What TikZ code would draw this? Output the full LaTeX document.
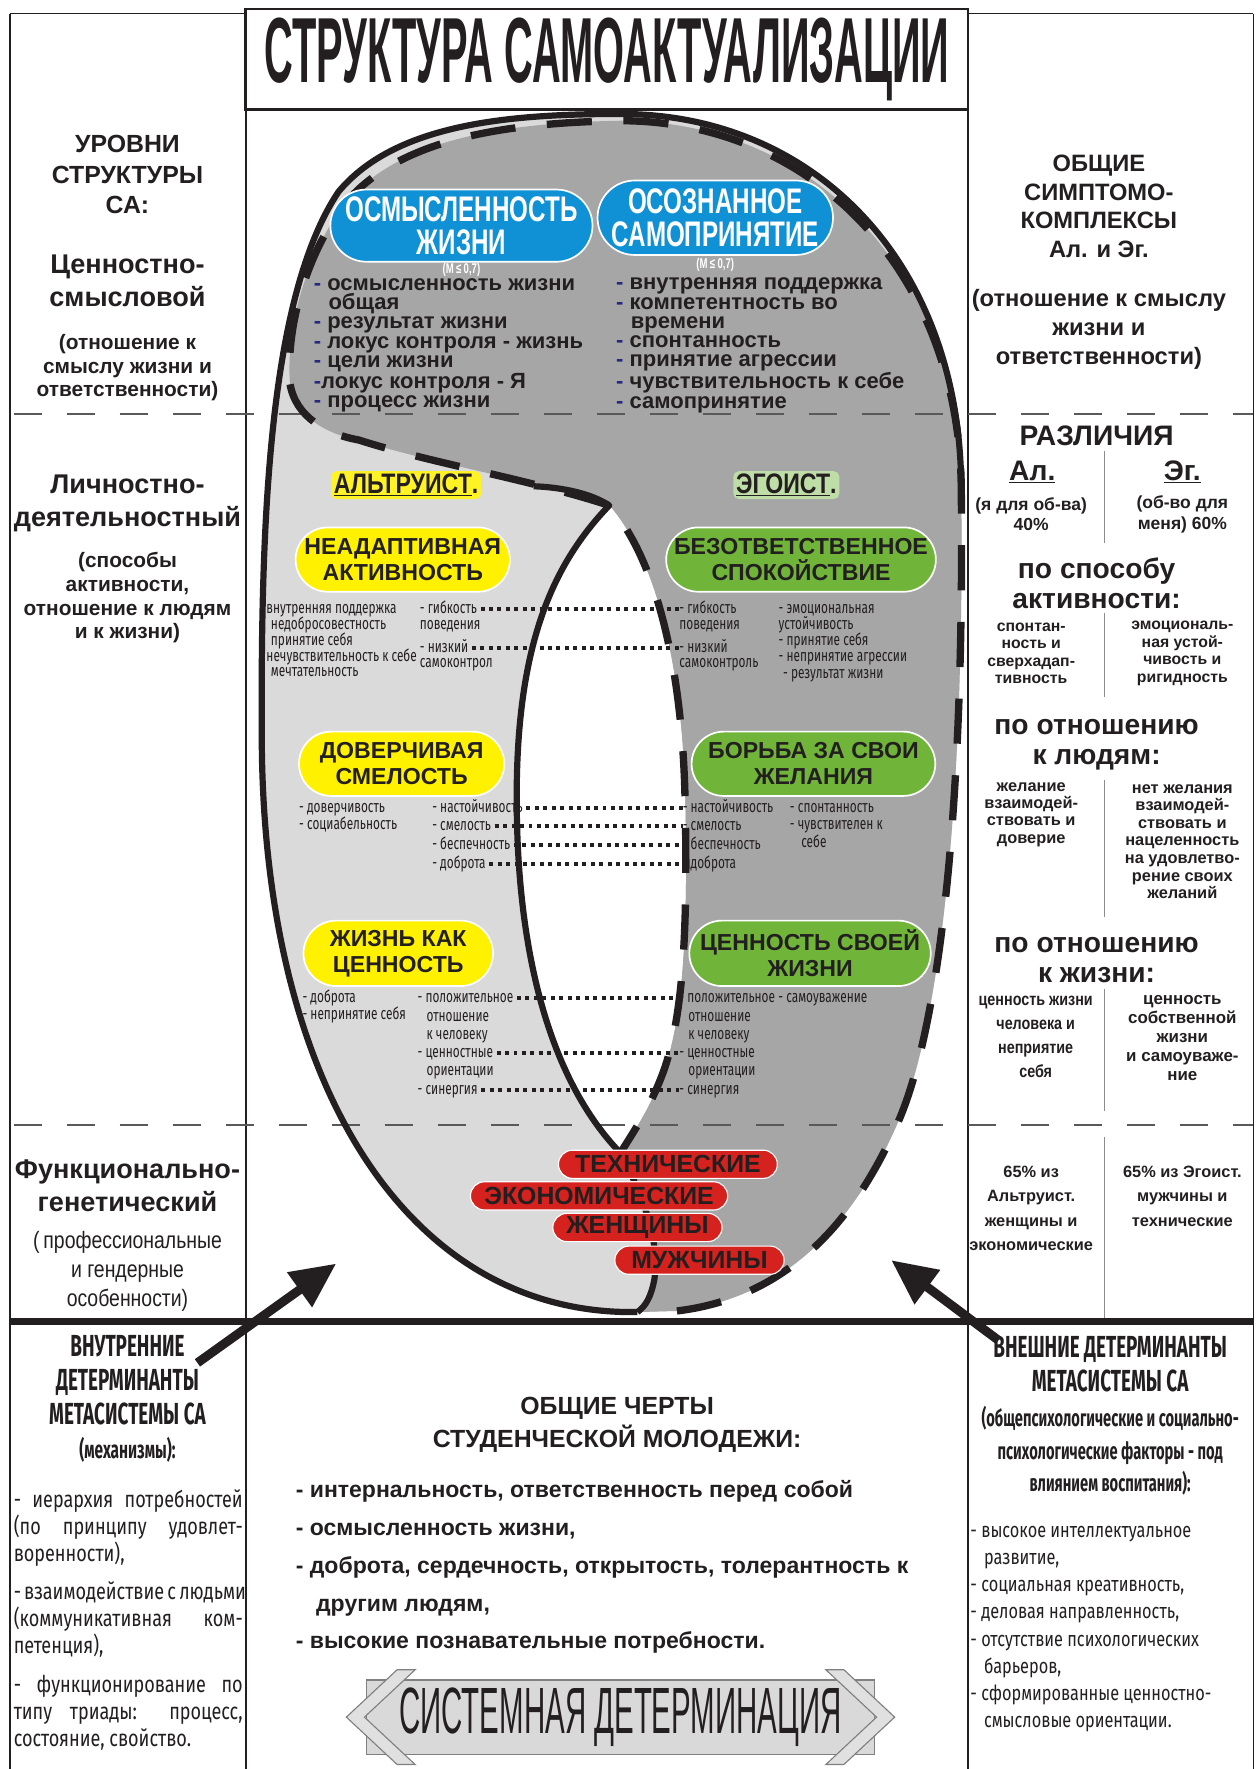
\documentclass[tikz,border=0pt]{standalone}
\usepackage{fontspec}
\setmainfont{Liberation Sans}
\newfontfamily\narrowf{Liberation Sans}[FakeStretch=0.82]
\newfontfamily\condf{Liberation Sans}[FakeStretch=0.68]
\newfontfamily\titlef{Liberation Sans}[FakeStretch=0.43]
\newfontfamily\bannerf{Liberation Sans}[FakeStretch=0.45]
\newfontfamily\futf{Fira Sans}[FakeStretch=0.78]
\newfontfamily\finef{Fira Sans}[FakeStretch=0.7]
\newfontfamily\futhf{Fira Sans}[FakeStretch=0.62]
\usetikzlibrary{arrows.meta,shapes.misc}

\definecolor{ink}{RGB}{35,31,32}
\definecolor{lgray}{RGB}{218,218,218}
\definecolor{dgray}{RGB}{166,166,166}
\definecolor{pillblue}{RGB}{16,145,214}
\definecolor{pillyel}{RGB}{255,241,0}
\definecolor{pillgrn}{RGB}{112,180,58}
\definecolor{pillred}{RGB}{214,34,30}
\definecolor{navy}{RGB}{40,40,130}
\newcommand{\fs}[2]{\fontsize{#1}{#2}\selectfont}
\newcommand{\dsh}{{\color{navy}-}}

\begin{document}
\begin{tikzpicture}[x=1pt,y=-1pt,
    framel/.style={line width=1.3pt,draw=ink},
    levelsep/.style={line width=1.4pt,draw=black!65,dash pattern=on 25pt off 22pt},
    subsep/.style={line width=1.2pt,draw=black!45},
    ctext/.style={align=center,inner sep=0pt,text=ink},
    lvlhead/.style={ctext,font=\bfseries\fs{22}{27}},
    lvlname/.style={ctext,font=\bfseries\fs{24}{29}},
    lvlnote/.style={ctext,font=\bfseries\fs{18.5}{21}},
    lvlnotetwo/.style={ctext,font=\narrowf\fs{21}{26}},
    rhead/.style={ctext,font=\bfseries\fs{21}{25.5}},
    diffhead/.style={ctext,font=\bfseries\fs{25}{26}},
    diffsub/.style={ctext,font=\bfseries\fs{14}{15.5}},
    detbig/.style={ctext,font=\futhf\bfseries\fs{27}{30}},
    detsmall/.style={ctext,font=\futhf\bfseries\fs{21}{29}},
    pill/.style={rounded rectangle,draw=white,line width=1.5pt,align=center,inner sep=0pt,text=ink},
    bluepill/.style={pill,fill=pillblue,text=white,font=\condf\bfseries\fs{31.5}{29.5}},
    yelpill/.style={pill,fill=pillyel,font=\bfseries\fs{20.5}{23}},
    grnpill/.style={pill,fill=pillgrn,font=\bfseries\fs{20.5}{23}},
    redpill/.style={pill,fill=pillred,line width=1pt,font=\bfseries\fs{22}{22},minimum height=25pt},
    typelbl/.style={ctext,inner sep=2.5pt,rounded corners=5pt,font=\narrowf\bfseries\fs{25}{25}},
    listblock/.style={anchor=west,align=left,inner sep=0pt,text=ink,font=\bfseries\fs{19.5}{17.1}},
    finetxt/.style={anchor=base west,inner sep=0pt,text=ink,font=\finef\fs{15}{14}},
    paratxt/.style={anchor=base west,inner sep=0pt,text=ink,font=\futf\fs{20.5}{24}},
    traitxt/.style={anchor=base west,inner sep=0pt,text=ink,font=\bfseries\fs{20.4}{22}},
    dotline/.style={line width=3.5pt,draw=ink,dash pattern=on 3.5pt off 4pt,shorten <=3pt},
    rimsolid/.style={line width=5.5pt,draw=ink,line join=round},
    rimdash/.style={line width=6.5pt,draw=ink,dash pattern=on 40pt off 28pt},
    bigarrow/.style={line width=8pt,draw=ink,-{Triangle[length=40pt,width=36pt]}}
  ]
  \useasboundingbox (0,0) rectangle (1116,1568);
  \fill[white] (0,0) rectangle (1116,1568);

  % the loop: light body, dark part, hole
  \def\outerpath{(560,1163) .. controls (360,1163) and (232,960) .. (232,650)
    .. controls (231,450) and (240,260) .. (300,170)
    .. controls (350,110) and (450,101) .. (550,101)
    .. controls (720,101) and (850,230) .. (852,430)
    .. controls (855,700) and (835,900) .. (798,990)
    .. controls (760,1080) and (700,1150) .. (600,1162) -- cycle}
  \def\holeright{(540,448) .. controls (585,500) and (604,600) .. (607,700)
    .. controls (610,820) and (606,900) .. (588,950)
    .. controls (575,985) and (560,1005) .. (550,1022)}
  \def\darkrim{(600,1162) .. controls (700,1150) and (760,1080) .. (798,990)
    .. controls (835,900) and (855,700) .. (852,430)
    .. controls (849,240) and (720,107) .. (550,107)
    .. controls (440,109) and (345,125) .. (300,188)
    .. controls (265,240) and (254,300) .. (257,340)
    .. controls (262,370) and (290,385) .. (318,390)
    .. controls (380,410) and (470,425) .. \holeright}
  \fill[lgray] \outerpath;
  \fill[dgray] \darkrim .. controls (570,1060) and (585,1100) .. (580,1134)
    .. controls (577,1150) and (572,1158) .. (565,1163) -- cycle;
  \fill[white] \holeright
    .. controls (490,960) and (457,850) .. (458,700)
    .. controls (459,570) and (490,500) .. (540,448) -- cycle;

  % frame and level lines
  \draw[framel] (9,12) -- (218,12) (858,12) -- (1111,12);
  \draw[framel] (9,12) -- (9,1568) (218,12) -- (218,1568)
    (858,12) -- (858,1568) (1111,12) -- (1111,1568);
  \draw[levelsep] (12,367) -- (1111,367);
  \draw[levelsep] (12,997) -- (1111,997);
  \draw[line width=6pt,ink] (9,1171) -- (1111,1171);
  \foreach \a/\b in {400/481, 543/618, 691/813, 877/985, 1008/1168}
    \draw[subsep] (979,\a) -- (979,\b);
  \node[draw=ink,line width=2.6pt,fill=white,minimum width=640pt,minimum height=89pt,
    inner sep=0pt,font=\titlef\bfseries\fs{82}{82},text=ink] (title) at (538,52.5)
    {СТРУКТУРА САМОАКТУАЛИЗАЦИИ};

  % left column: levels
  \node[lvlhead] (lvlTop) at (113,155) {УРОВНИ\\СТРУКТУРЫ\\СА:};
  \node[lvlname] (lvlOne) at (113,249) {Ценностно-\\смысловой};
  \node[lvlnote] (lvlOneNote) at (113,326) {(отношение к\\смыслу жизни и\\ответственности)};
  \node[lvlname] (lvlTwo) at (113,446) {Личностно-\\деятельностный};
  \node[lvlnote] (lvlTwoNote) at (113,530) {(способы\\активности,\\отношение к людям\\и к жизни)};
  \node[lvlname] (lvlThree) at (113,1051) {Функционально-\\генетический};
  \node[lvlnotetwo] (lvlThreeNote) at (113,1127) {(\,профессиональные\\и гендерные\\особенности)};

  % left column: inner determinants
  \node[detbig] (innerHead) at (113,1240) {ВНУТРЕННИЕ\\ДЕТЕРМИНАНТЫ\\МЕТАСИСТЕМЫ СА\\{\fs{22}{22}(механизмы):}};
  \foreach \txt/\yy/\md [count=\i] in {{- иерархия потребностей}/1336/s,
      {(по принципу удовлет-}/1360/s, {воренности),}/1384/l,
      {- взаимодействие с людьми}/1418/s, {(коммуникативная ком-}/1442/s,
      {петенция),}/1466/l, {- функционирование по}/1500/s,
      {типу триады: процесс,}/1524/s, {состояние, свойство.}/1548/l}
    \node[paratxt] (inner\i) at (12,\yy) {\makebox[203pt][\md]{\txt}};

  % right column: common symptom complexes
  \node[rhead] (symHead) at (974,183) {ОБЩИЕ\\СИМПТОМО-\\КОМПЛЕКСЫ\\Ал. и Эг.};
  \node[rhead] (symNote) at (974,292) {(отношение к смыслу\\жизни и\\ответственности)};
  \node[diffhead] (diffHead) at (972,386) {РАЗЛИЧИЯ};
  \node[diffhead] (altShort) at (915,418) {\underline{Ал.}};
  \node[diffhead] (egoShort) at (1048,418) {\underline{Эг.}};
  \node[ctext,font=\bfseries\fs{15.5}{18}] (altShare) at (914,456) {(я для об-ва)\\40\%};
  \node[ctext,font=\bfseries\fs{15.5}{18}] (egoShare) at (1048,456) {(об-во для\\меня) 60\%};
  \node[diffhead] (byAct) at (972,517) {по способу\\активности:};
  \node[diffsub] (altAct) at (914,579) {спонтан-\\ность и\\сверхадап-\\тивность};
  \node[diffsub] (egoAct) at (1048,579) {эмоциональ-\\ная устой-\\чивость и\\ригидность};
  \node[diffhead] (byPeople) at (972,660) {по отношению\\к людям:};
  \node[ctext,font=\bfseries\fs{14.5}{15.3}] (altPeople) at (914,722) {желание\\взаимодей-\\ствовать и\\доверие};
  \node[ctext,font=\bfseries\fs{14.5}{15.6}] (egoPeople) at (1048,746) {нет желания\\взаимодей-\\ствовать и\\нацеленность\\на удовлетво-\\рение своих\\желаний};
  \node[diffhead] (byLife) at (972,851) {по отношению\\к жизни:};
  \node[ctext,font=\narrowf\bfseries\fs{15.5}{21.5}] (altLife) at (918,919) {ценность жизни\\человека и\\неприятие\\себя};
  \node[ctext,font=\bfseries\fs{15}{17}] (egoLife) at (1048,920) {ценность\\собственной\\жизни\\и самоуваже-\\ние};
  \node[ctext,font=\bfseries\fs{14.5}{21.7}] (altShareB) at (914,1071) {65\% из\\Альтруист.\\женщины и\\экономические};
  \node[ctext,font=\bfseries\fs{14.5}{21.7}] (egoShareB) at (1048,1060) {65\% из Эгоист.\\мужчины и\\технические};

  % right column: outer determinants
  \node[detbig] (outerHead) at (984,1209) {ВНЕШНИЕ ДЕТЕРМИНАНТЫ\\МЕТАСИСТЕМЫ СА};
  \node[detsmall] (outerNote) at (984,1286) {(общепсихологические и социально-\\психологические факторы - под\\влиянием воспитания):};
  \foreach \txt/\xx [count=\i] in {{- высокое интеллектуальное}/860, {развитие,}/872,
      {- социальная креативность,}/860, {- деловая направленность,}/860,
      {- отсутствие психологических}/860, {барьеров,}/872,
      {- сформированные ценностно-}/860, {смысловые ориентации.}/872}
    \node[paratxt,font=\futf\fs{18.5}{22}] (outer\i) at (\xx,1363+24*\i-24) {\txt};

  % middle bottom: common traits
  \node[ctext,font=\bfseries\fs{22}{29}] (traitHead) at (547,1263) {ОБЩИЕ ЧЕРТЫ\\СТУДЕНЧЕСКОЙ МОЛОДЕЖИ:};
  \foreach \txt/\xx/\yy [count=\i] in {{- интернальность, ответственность перед собой}/262/1327,
      {- осмысленность жизни,}/262/1361, {- доброта, сердечность, открытость, толерантность к}/262/1395,
      {другим людям,}/280/1428, {- высокие познавательные потребности.}/262/1461}
    \node[traitxt] (trait\i) at (\xx,\yy) {\txt};

  % banner
  \node[draw=black!50,fill=black!15,line width=1.2pt,minimum width=450pt,minimum height=66pt,
    inner sep=0pt,font=\bannerf\fs{58}{58},text=ink] (sysdet) at (550,1522) {СИСТЕМНАЯ ДЕТЕРМИНАЦИЯ};
  \filldraw[fill=black!12,draw=black!50,line width=1pt]
    (352,1480) -- (307,1522) -- (352,1564) -- (368,1564) -- (323,1522) -- (368,1480) -- cycle;
  \filldraw[fill=black!12,draw=black!50,line width=1pt]
    (748,1480) -- (793,1522) -- (748,1564) -- (732,1564) -- (777,1522) -- (732,1480) -- cycle;

  % arrows into the loop
  \coordinate (inTail) at (175,1208);
  \coordinate (inTip) at (298,1120);
  \coordinate (outTail) at (885,1188);
  \coordinate (outTip) at (790,1117);
  \draw[bigarrow] (inTail) -- (inTip);
  \draw[bigarrow] (outTail) -- (outTip);

  % sense level lists
  \node[listblock] (senseL) at (278,306) {\dsh\ осмысленность жизни\\\hspace*{13pt}общая\\
    \dsh\ результат жизни\\\dsh\ локус контроля - жизнь\\\dsh\ цели жизни\\
    \dsh локус контроля - Я\\\dsh\ процесс жизни};
  \node[listblock] (senseR) at (546,306) {\dsh\ внутренняя поддержка\\\dsh\ компетентность во\\
    \hspace*{13pt}времени\\\dsh\ спонтанность\\\dsh\ принятие агрессии\\
    \dsh\ чувствительность к себе\\\dsh\ самопринятие};

  % block 1
  \foreach \txt/\xx/\yy [count=\i] in {{внутренняя поддержка}/236/544, {недобросовестность}/240/558,
      {принятие себя}/240/572, {нечувствительность к себе}/236/586, {мечтательность}/240/600}
    \node[finetxt] (b1l\i) at (\xx,\yy) {\txt};
  \foreach \txt/\yy [count=\i] in {- гибкость/544, поведения/558, - низкий/578, самоконтрол/592}
    \node[finetxt] (b1m\i) at (372,\yy) {\txt};
  \foreach \txt/\yy [count=\i] in {- гибкость/544, поведения/558, - низкий/578, самоконтроль/592}
    \node[finetxt] (b1r\i) at (602,\yy) {\txt};
  \foreach \txt/\xx/\yy [count=\i] in {- эмоциональная/690/544, устойчивость/690/558,
      - принятие себя/690/572, - непринятие агрессии/690/586, - результат жизни/694/601}
    \node[finetxt] (b1f\i) at (\xx,\yy) {\txt};
  \foreach \i in {1,3}
    \draw[dotline] ([yshift=4pt]b1m\i.base east) -- ([yshift=4pt]b1r\i.base west);

  % block 2
  \foreach \txt/\yy [count=\i] in {- доверчивость/720, - социабельность/735}
    \node[finetxt] (b2l\i) at (265,\yy) {\txt};
  \foreach \txt/\yy [count=\i] in {- настойчивость/720, - смелость/736, - беспечность/753, - доброта/770}
    \node[finetxt] (b2m\i) at (383,\yy) {\txt};
  \foreach \txt/\yy [count=\i] in {- настойчивость/720, - смелость/736, - беспечность/753, - доброта/770}
    \node[finetxt] (b2r\i) at (605,\yy) {\txt};
  \foreach \txt/\xx/\yy [count=\i] in {- спонтанность/700/720, - чувствителен к/700/735, себе/710/751}
    \node[finetxt] (b2f\i) at (\xx,\yy) {\txt};
  \foreach \i in {1,...,4}
    \draw[dotline] ([yshift=4pt]b2m\i.base east) -- ([yshift=4pt]b2r\i.base west);

  % block 3
  \foreach \txt/\yy [count=\i] in {- доброта/889, - непринятие себя/904}
    \node[finetxt] (b3l\i) at (268,\yy) {\txt};
  \foreach \txt/\xx/\yy [count=\i] in {- положительное/370/889, отношение/378/905, к человеку/378/921,
      - ценностные/370/937, ориентации/378/953, - синергия/370/970}
    \node[finetxt] (b3m\i) at (\xx,\yy) {\txt};
  \foreach \txt/\xx/\yy [count=\i] in {- положительное/602/889, отношение/610/905, к человеку/610/921,
      - ценностные/602/937, ориентации/610/953, - синергия/602/970}
    \node[finetxt] (b3r\i) at (\xx,\yy) {\txt};
  \node[finetxt] (b3f1) at (b3r1.base east) {\,- самоуважение};
  \foreach \i in {1,4,6}
    \draw[dotline] ([yshift=4pt]b3m\i.base east) -- ([yshift=4pt]b3r\i.base west);

  % outlines of the loop
  \draw[rimsolid] (852,430) .. controls (850,230) and (720,101) .. (550,101)
    .. controls (450,101) and (350,110) .. (300,170)
    .. controls (240,260) and (231,450) .. (232,650)
    .. controls (232,960) and (360,1163) .. (560,1163) -- (565,1163);
  \draw[rimsolid] (550,1022) .. controls (570,1060) and (585,1100) .. (580,1134)
    .. controls (577,1150) and (572,1158) .. (565,1163);
  \draw[rimsolid] (473,431) .. controls (500,432) and (525,438) .. (540,448)
    .. controls (490,500) and (459,570) .. (458,700)
    .. controls (457,850) and (490,960) .. (550,1022);
  \draw[rimdash] \darkrim;

  % type labels
  \node[typelbl,fill=pillyel!85] (altruist) at (360,430) {\underline{АЛЬТРУИСТ}.};
  \node[typelbl,fill=pillgrn!45] (egoist) at (697,430) {\underline{ЭГОИСТ}.};

  % pills
  \node[bluepill,minimum width=218pt,minimum height=64pt] (meaning) at (409,200) {ОСМЫСЛЕННОСТЬ\\ЖИЗНИ};
  \node[bluepill,minimum width=204pt,minimum height=66pt] (selfacc) at (634,193) {ОСОЗНАННОЕ\\САМОПРИНЯТИЕ};
  \node[ctext,text=white,font=\condf\bfseries\fs{12.5}{12.5}] (meaningM) at (409,239) {(M\,≤\,0,7)};
  \node[ctext,text=white,font=\condf\bfseries\fs{12.5}{12.5}] (selfaccM) at (634,235) {(M\,≤\,0,7)};
  \node[yelpill,minimum width=190pt,minimum height=57pt] (maladapt) at (357,496) {НЕАДАПТИВНАЯ\\АКТИВНОСТЬ};
  \node[yelpill,minimum width=182pt,minimum height=57pt] (trustful) at (356,677) {ДОВЕРЧИВАЯ\\СМЕЛОСТЬ};
  \node[yelpill,minimum width=168pt,minimum height=58pt] (lifeval) at (353,845) {ЖИЗНЬ КАК\\ЦЕННОСТЬ};
  \node[grnpill,minimum width=226pt,minimum height=57pt] (careless) at (710,496) {БЕЗОТВЕТСТВЕННОЕ\\СПОКОЙСТВИЕ};
  \node[grnpill,minimum width=216pt,minimum height=57pt] (struggle) at (721,677) {БОРЬБА ЗА СВОИ\\ЖЕЛАНИЯ};
  \node[grnpill,minimum width=214pt,minimum height=58pt] (ownlife) at (718,845) {ЦЕННОСТЬ СВОЕЙ\\ЖИЗНИ};
  \node[redpill,minimum width=194pt] (tech) at (592,1032) {ТЕХНИЧЕСКИЕ};
  \node[redpill,minimum width=228pt] (econ) at (531,1060) {ЭКОНОМИЧЕСКИЕ};
  \node[redpill,minimum width=150pt] (women) at (565,1088) {ЖЕНЩИНЫ};
  \node[redpill,minimum width=150pt] (men) at (620,1117) {МУЖЧИНЫ};
\end{tikzpicture}
\end{document}
